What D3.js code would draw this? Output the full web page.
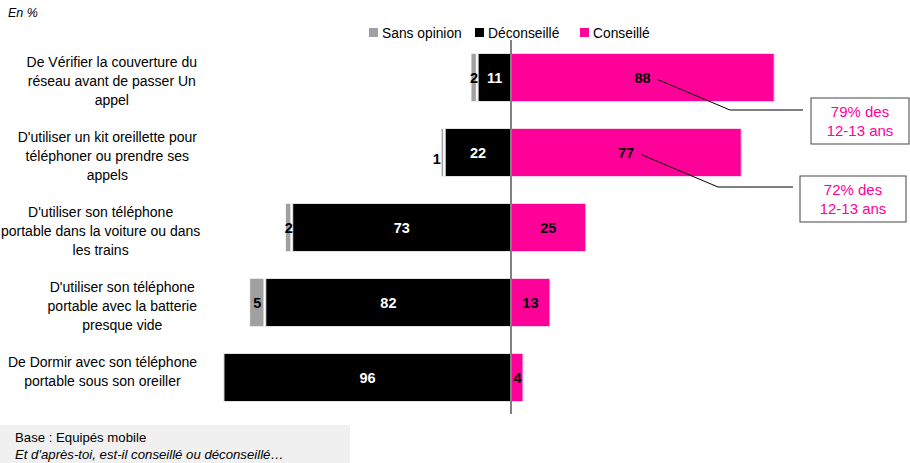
<!DOCTYPE html>
<html>
<head>
<meta charset="utf-8">
<script src="https://cdn.jsdelivr.net/npm/d3@7"></script>
<style>
  body { margin: 0; background: #fff; }
  svg { display: block; font-family: "Liberation Sans", Arial, sans-serif; }
</style>
</head>
<body>
<svg width="910" height="463"></svg>
<script>
// values (en %)
const categories = [
  ["De Vérifier la couverture du", "réseau avant de passer Un", "appel"],
  ["D'utiliser un kit oreillette pour", "téléphoner ou prendre ses", "appels"],
  ["D'utiliser son téléphone", "portable dans la voiture ou dans", "les trains"],
  ["D'utiliser son téléphone", "portable avec la batterie", "presque vide"],
  ["De Dormir avec son téléphone", "portable sous son oreiller"]
];
const sansOpinion = [2, 1, 2, 5, 0];
const deconseille = [11, 22, 73, 82, 96];
const conseille   = [88, 77, 25, 13, 4];
const legendLabels = ["Sans opinion", "Déconseillé", "Conseillé"];
const callouts = [
  { row: 0, lines: ["79% des", "12-13 ans"] },
  { row: 1, lines: ["72% des", "12-13 ans"] }
];

const PINK = "#ff0099", GREY = "#a0a0a0";

let svg = d3.select("svg");

let x = d3.scaleLinear().domain([-100, 100]).range([212, 810]);
let y = d3.scaleBand().domain(d3.range(categories.length)).range([40, 415])
  .paddingInner(0.36).paddingOuter(0.18);

let rows = categories.map(function(c, i) {
  return { i: i, s: sansOpinion[i], d: deconseille[i], c: conseille[i] };
});

// "En %"
svg.append("text").attr("x", 8).attr("y", 17)
  .attr("font-size", 12.5).attr("font-style", "italic").text("En %");

// legend
let legColors = [GREY, "#000", PINK];
let legX = [369, 475, 580];
legendLabels.forEach(function(l, k) {
  svg.append("rect").attr("x", legX[k]).attr("y", 28).attr("width", 9).attr("height", 9)
    .attr("fill", legColors[k]);
  svg.append("text").attr("x", legX[k] + 13).attr("y", 38)
    .attr("font-size", 13.8).text(l);
});

// bars
let g = svg.append("g");

g.selectAll("rect.con").data(rows).enter().append("rect")
  .attr("x", x(0))
  .attr("y", function(d){ return y(d.i); })
  .attr("width", function(d){ return x(d.c) - x(0); })
  .attr("height", y.bandwidth())
  .attr("fill", PINK).attr("stroke", "#ffd0ea").attr("stroke-width", 1);

g.selectAll("rect.dec").data(rows).enter().append("rect")
  .attr("x", function(d){ return x(-d.d); })
  .attr("y", function(d){ return y(d.i); })
  .attr("width", function(d){ return x(0) - x(-d.d); })
  .attr("height", y.bandwidth())
  .attr("fill", "#000").attr("stroke", "#e0e0e0").attr("stroke-width", 1);

g.selectAll("rect.sans").data(rows.filter(function(d){ return d.s > 0; })).enter().append("rect")
  .attr("x", function(d){ return x(-d.d - d.s) - 1; })
  .attr("y", function(d){ return y(d.i); })
  .attr("width", function(d){ return x(-d.d) - x(-d.d - d.s) - 1; })
  .attr("height", y.bandwidth())
  .attr("fill", GREY).attr("stroke", "#fff").attr("stroke-width", 0.5);

// value labels
let lab = svg.append("g").attr("font-size", 14.5).attr("font-weight", "bold")
  .attr("text-anchor", "middle");

lab.selectAll("text.c").data(rows).enter().append("text")
  .attr("x", function(d){ return (x(0) + x(d.c)) / 2 + (d.c < 6 ? 0.5 : 0); })
  .attr("y", function(d){ return y(d.i) + y.bandwidth() / 2 + 5; })
  .attr("fill", "#000")
  .text(function(d){ return d.c; });

lab.selectAll("text.d").data(rows).enter().append("text")
  .attr("x", function(d){ return (x(0) + x(-d.d)) / 2; })
  .attr("y", function(d){ return y(d.i) + y.bandwidth() / 2 + 5; })
  .attr("fill", "#fff")
  .text(function(d){ return d.d; });

lab.selectAll("text.s").data(rows.filter(function(d){ return d.s > 0; })).enter().append("text")
  .attr("x", function(d){
    let cx = (x(-d.d) + x(-d.d - d.s)) / 2 - 1;
    return d.s < 2 ? cx - 6 : cx;
  })
  .attr("y", function(d){ return y(d.i) + y.bandwidth() / 2 + 5 + (d.s < 2 ? 6 : 0); })
  .attr("fill", "#000")
  .text(function(d){ return d.s; });

// category labels: block right edge at 197, lines centred in the block
let cat = svg.append("g").attr("font-size", 14).attr("text-anchor", "middle");
categories.forEach(function(lines, i) {
  let top = y(i);
  let t = cat.append("text");
  let spans = lines.map(function(l, k) {
    return t.append("tspan").attr("y", top + 13 + k * 19).text(l);
  });
  let maxW = d3.max(spans, function(s){ return s.node().getComputedTextLength(); });
  let cx = Math.max(197 - maxW / 2, maxW / 2 + 1);
  spans.forEach(function(s){ s.attr("x", cx); });
});

// zero axis
svg.append("line").attr("x1", x(0)).attr("x2", x(0)).attr("y1", 40).attr("y2", 414)
  .attr("stroke", "#808080").attr("stroke-width", 2);

// callouts
let boxes = [
  { bx: 811, by: 98, bw: 98, bh: 46, kneeX: 730, kneeY: 110, endX: 803 },
  { bx: 800, by: 176, bw: 106, bh: 46, kneeX: 718, kneeY: 187, endX: 793 }
];
callouts.forEach(function(co, k) {
  let b = boxes[k];
  let d = rows[co.row];
  let sx = (x(0) + x(d.c)) / 2 + 15;
  let sy = y(d.i) + y.bandwidth() / 2 + 2;
  svg.append("polyline")
    .attr("points", [[sx, sy], [b.kneeX, b.kneeY], [b.endX, b.kneeY]].join(" "))
    .attr("fill", "none").attr("stroke", "#000").attr("stroke-width", 1);
  svg.append("rect").attr("x", b.bx).attr("y", b.by).attr("width", b.bw).attr("height", b.bh)
    .attr("fill", "#fff").attr("stroke", "#444").attr("stroke-width", 1);
  let t = svg.append("text").attr("text-anchor", "middle").attr("font-size", 15)
    .attr("fill", PINK);
  co.lines.forEach(function(l, j) {
    t.append("tspan").attr("x", b.bx + b.bw / 2).attr("y", b.by + 19 + j * 19).text(l);
  });
});

// footer
svg.append("rect").attr("x", 0).attr("y", 425).attr("width", 350).attr("height", 38)
  .attr("fill", "#f0f0f0");
svg.append("text").attr("x", 15).attr("y", 442).attr("font-size", 13.2)
  .text("Base : Equipés mobile");
svg.append("text").attr("x", 15).attr("y", 459).attr("font-size", 13.2)
  .attr("font-style", "italic").text("Et d'après-toi, est-il conseillé ou déconseillé…");
</script>
</body>
</html>
